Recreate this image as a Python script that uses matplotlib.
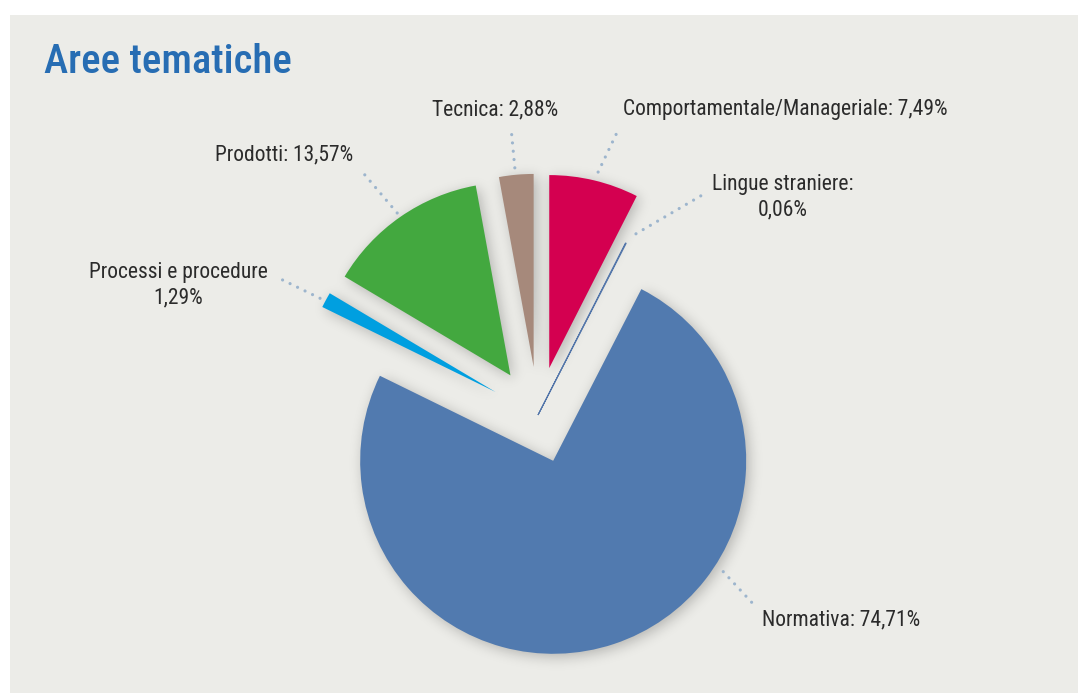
import matplotlib
matplotlib.use("Agg")
import matplotlib.pyplot as plt
from matplotlib.patches import Rectangle
from matplotlib import font_manager
import numpy as np

# ---- data ----
categories = ["Comportamentale/Manageriale", "Lingue straniere", "Normativa",
              "Processi e procedure", "Prodotti", "Tecnica"]
values = [7.49, 0.06, 74.71, 1.29, 13.57, 2.88]
label_texts = ["Comportamentale/Manageriale: 7,49%", "Lingue straniere:\n0,06%",
               "Normativa: 74,71%", "Processi e procedure\n1,29%",
               "Prodotti: 13,57%", "Tecnica: 2,88%"]
title = "Aree tematiche"

# ---- style / layout ----
colors = ["#D40050", "#5577AA", "#517AAF", "#009FE0", "#43A83F", "#A6897B"]
explode_frac = [0.25, 0.0, 0.25, 0.25, 0.25, 0.25]

names = {f.name for f in font_manager.fontManager.ttflist}
fam = next((f for f in ["Roboto Condensed", "Archivo Narrow", "Barlow Semi Condensed",
                        "Liberation Sans Narrow", "Liberation Sans"] if f in names), "DejaVu Sans")

W, H = 1078, 693
fig = plt.figure(figsize=(W / 100, H / 100), dpi=100)
fig.patch.set_facecolor("white")
ax = fig.add_axes([0, 0, 1, 1])

ax.add_patch(Rectangle((10, 0), W - 10, H - 15, facecolor="#ECECE8", edgecolor="none", zorder=0))

R = 193
center = (538, H - 415)
wedges, _ = ax.pie(values, colors=colors, explode=[e * R for e in explode_frac],
                   startangle=90, counterclock=False, radius=R, center=center, frame=True,
                   wedgeprops=dict(linewidth=0))
ax.set_xlim(0, W)
ax.set_ylim(0, H)
ax.set_aspect("equal")
ax.axis("off")
for w in wedges:
    w.set_zorder(3)
wedges[1].set_edgecolor(colors[1])
wedges[1].set_linewidth(0.8)

# ---- soft drop shadow (blurred mask of the wedges) ----
gx, gy = np.meshgrid(np.arange(W) + 0.5, np.arange(H) + 0.5)
pts = np.column_stack([gx.ravel(), gy.ravel()])
mask = np.zeros(W * H)
for i, w in enumerate(wedges):
    if explode_frac[i] == 0:
        continue
    path = w.get_patch_transform().transform_path(w.get_path())
    mask = np.maximum(mask, path.contains_points(pts - np.array([3, -3])).astype(float))
mask = mask.reshape(H, W)
sig = 6.5
k = np.arange(-22, 23)
kern = np.exp(-0.5 * (k / sig) ** 2)
kern /= kern.sum()
blur = np.apply_along_axis(lambda r: np.convolve(r, kern, mode="same"), 1, mask)
blur = np.apply_along_axis(lambda c: np.convolve(c, kern, mode="same"), 0, blur)
rgba = np.zeros((H, W, 4))
rgba[..., 3] = 0.24 * blur
ax.imshow(rgba, extent=(0, W, 0, H), origin="lower", zorder=2, interpolation="bilinear")
ax.set_xlim(0, W)
ax.set_ylim(0, H)

# label positions (pixel coords), alignment
label_pos = [(623, 110, "left"), (783, 197, "center"), (762, 620, "left"),
             (178, 285, "center"), (284, 155, "center"), (495, 110, "center")]
# leader lines: (angle1, r1, angle2, r2) relative to wedge apex
leaders = [(76, 202, 74, 244), (61.6, 206, 53.3, 274), (-33.1, 203, -35.5, 244),
           (151.9, 199, 152.3, 247), (124.9, 198, 126, 248), (95.4, 200, 95.4, 234)]

for w, txt, (lx, ly, ha), (a1, r1, a2, r2) in zip(wedges, label_texts, label_pos, leaders):
    cx, cy = w.center
    p1 = (cx + r1 * np.cos(np.radians(a1)), cy + r1 * np.sin(np.radians(a1)))
    p2 = (cx + r2 * np.cos(np.radians(a2)), cy + r2 * np.sin(np.radians(a2)))
    ax.plot([p1[0], p2[0]], [p1[1], p2[1]], color="#9DB5CD", lw=2.3,
            linestyle=(0, (0.01, 2.6)), dash_capstyle="round", zorder=4)
    ax.text(lx, H - ly, txt, ha=ha, va="center", multialignment="center",
            fontsize=15.5, family=fam, color="#2B2B2B", linespacing=1.3, zorder=5)

ax.text(44, H - 73, title, ha="left", va="baseline", fontsize=29.4, family=fam,
        fontweight="medium", color="#276DB3", zorder=5)

fig.savefig("out.png", dpi=100, facecolor="white")
